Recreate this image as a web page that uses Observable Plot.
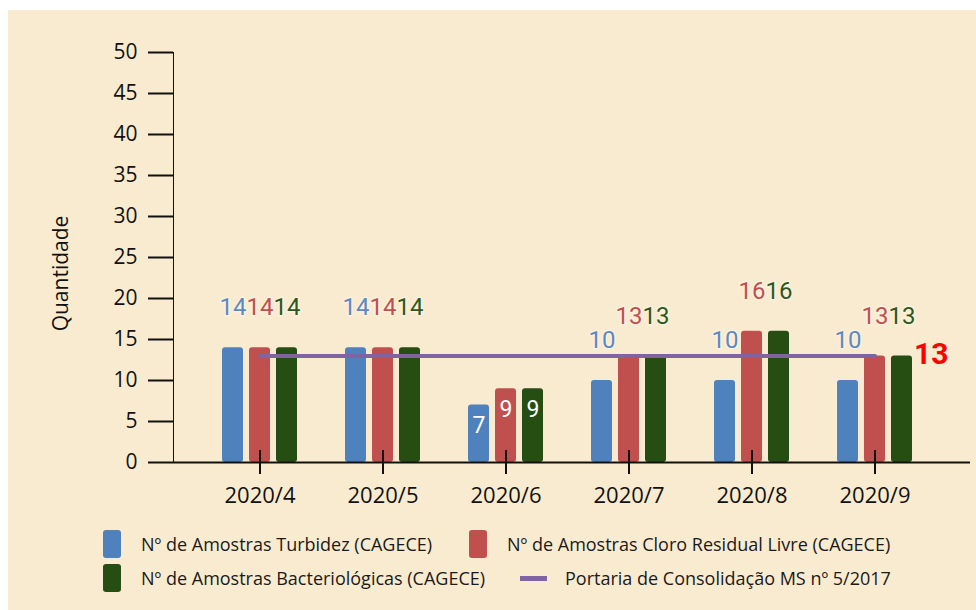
<!DOCTYPE html>
<html>
<head>
<meta charset="utf-8">
<script src="https://cdn.jsdelivr.net/npm/d3@7"></script>
<script src="https://cdn.jsdelivr.net/npm/@observablehq/plot@0.6"></script>
<style>
  html, body { margin: 0; padding: 0; background: #ffffff; }
  #panel { position: absolute; left: 8px; top: 10px; width: 968px; height: 600px; background: #f9ebd0; }
  #chart { position: absolute; left: 0; top: 0; }
  #chart g[aria-label="x-axis tick label"] { font-size: 22px; }
  #chart g[aria-label="y-axis tick label"] { font-size: 21px; }
  #legend { position: absolute; left: 0; top: 0; font-family: "Open Sans", sans-serif; font-size: 18px; color: #1a1a1a; }
  .item { position: absolute; display: flex; align-items: center; white-space: nowrap; }
  .sw { display: inline-block; width: 18px; height: 28px; border-radius: 3px; margin-right: 20px; }
  .ln { display: inline-block; width: 27px; height: 5px; margin-right: 18px; }
</style>
</head>
<body>
<div id="panel"></div>
<div id="chart"></div>
<div id="legend"></div>
<script>
// ---- data ----
const months = ["2020/4", "2020/5", "2020/6", "2020/7", "2020/8", "2020/9"];
const turbidez = [14, 14, 7, 10, 10, 10];
const cloro = [14, 14, 9, 13, 16, 13];
const bacteriologicas = [14, 14, 9, 13, 16, 13];
const portaria = [13, 13, 13, 13, 13, 13];
const seriesNames = [
  "Nº de Amostras Turbidez (CAGECE)",
  "Nº de Amostras Cloro Residual Livre (CAGECE)",
  "Nº de Amostras Bacteriológicas (CAGECE)"
];
const lineName = "Portaria de Consolidação MS nº 5/2017";
const yLabel = "Quantidade";
const yTicks = [0, 5, 10, 15, 20, 25, 30, 35, 40, 45, 50];
const insideLabelMonths = ["2020/6"];

// ---- styles ----
const barColors = ["#4f81bd", "#c0504d", "#264d12"];
const labelColors = ["#5d89c2", "#c0504d", "#2e581c"];
const lineColor = "#8064a2";
const offsets = [-27, 0, 27];

const seriesValues = [turbidez, cloro, bacteriologicas];
const seriesRows = seriesValues.map((vals, k) =>
  months.map((m, i) => ({month: m, value: vals[i], series: seriesNames[k]}))
);
const portariaRows = months.map((m, i) => ({month: m, value: portaria[i]}));

const marks = [];
seriesRows.forEach((rows, k) => {
  marks.push(Plot.barY(rows, {x: "month", y: "value", fill: barColors[k], insetLeft: 51, insetRight: 51, dx: offsets[k], rx: 3}));
});
marks.push(Plot.ruleY([0], {stroke: "#111", strokeWidth: 2}));
marks.push(Plot.ruleX(months, {x: d => d, y1: 0, y2: 0, insetTop: -12, insetBottom: -12, stroke: "#111", strokeWidth: 2}));
marks.push(Plot.line(portariaRows, {x: "month", y: "value", stroke: lineColor, strokeWidth: 4}));
seriesRows.forEach((rows, k) => {
  marks.push(Plot.text(rows.filter(r => !insideLabelMonths.includes(r.month)), {
    x: "month", y: "value", text: d => String(d.value), dx: offsets[k], dy: -40,
    fill: labelColors[k], fontSize: 24, fontFamily: "Roboto", stroke: "#fbf1df", strokeWidth: 3, paintOrder: "stroke"
  }));
  marks.push(Plot.text(rows.filter(r => insideLabelMonths.includes(r.month)), {
    x: "month", y: "value", text: d => String(d.value), dx: offsets[k], dy: 21,
    fill: "#ffffff", fontSize: 23, fontFamily: "Roboto"
  }));
});
marks.push(Plot.text(portariaRows.slice(-1), {
  x: "month", y: "value", text: d => String(d.value), textAnchor: "start", dx: 39, dy: -2,
  fill: "#ff0000", fontSize: 30, fontWeight: "bold", fontFamily: "Roboto"
}));
marks.push(Plot.text([yLabel], {
  frameAnchor: "left", text: d => d, rotate: -90, textAnchor: "middle", lineAnchor: "middle", dx: -112, dy: 16,
  fontSize: 21, fill: "#111", fontFamily: "Open Sans"
}));

const chart = Plot.plot({
  width: 976,
  height: 520,
  marginLeft: 173,
  marginRight: 6,
  marginTop: 52,
  marginBottom: 58,
  style: {background: "transparent", fontFamily: "Open Sans", fontSize: "20px", color: "#111", overflow: "visible"},
  x: {type: "band", domain: months, range: [195, 938], padding: 0, tickSize: 0, tickPadding: 25, label: null},
  y: {domain: [0, 50], ticks: yTicks, tickSize: 25, tickPadding: 11, line: true, label: null},
  marks
});
document.getElementById("chart").appendChild(chart);
chart.querySelectorAll('[aria-label^="y-axis"] line, [aria-label^="y-axis"] path').forEach(e => e.setAttribute("stroke-width", 2));

// ---- legend ----
const legend = document.getElementById("legend");
const items = [
  {label: seriesNames[0], color: barColors[0], kind: "sw", left: 103, top: 530},
  {label: seriesNames[1], color: barColors[1], kind: "sw", left: 469, top: 530},
  {label: seriesNames[2], color: barColors[2], kind: "sw", left: 103, top: 564},
  {label: lineName, color: lineColor, kind: "ln", left: 520, top: 564}
];
items.forEach(it => {
  const d = document.createElement("div");
  d.className = "item";
  d.style.left = it.left + "px";
  d.style.top = it.top + "px";
  d.style.height = "28px";
  const s = document.createElement("span");
  s.className = it.kind;
  s.style.background = it.color;
  d.appendChild(s);
  const t = document.createElement("span");
  t.textContent = it.label;
  d.appendChild(t);
  legend.appendChild(d);
});
</script>
</body>
</html>
